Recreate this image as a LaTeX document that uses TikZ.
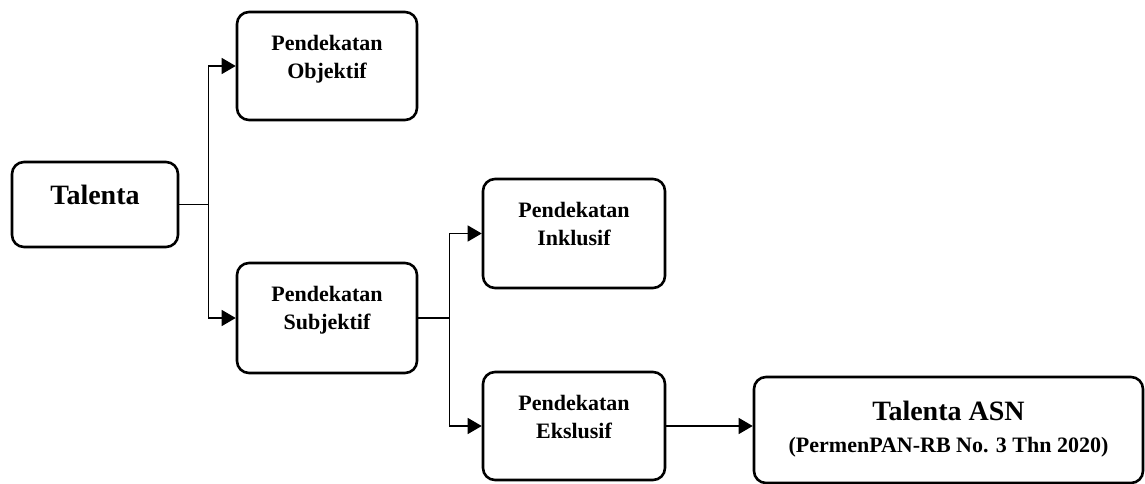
\documentclass[tikz,border=0pt]{standalone}
\usepackage{fontspec}
\setmainfont{Liberation Serif}
\usepackage{tikz}
\usetikzlibrary{arrows.meta}
\newcommand{\boxtxt}[4]{\parbox[c][#1][t]{#2}{\centering\vspace*{#3}#4}}
\tikzset{%
    roundbox/.style={%
        draw, line width=2.6pt, rounded corners=12pt, inner sep=0pt,
        font=\fontsize{22}{28}\selectfont\bfseries
    },
    link/.style={line width=1.3pt},
    linkarrow/.style={link, -{Triangle[length=14pt,width=16pt]}}
}

\begin{document}
\begin{tikzpicture}[x=1pt,y=-1pt]
    \useasboundingbox (0,0) rectangle (1145,484);
    \node[roundbox] (tal) at (95,204.5) {\boxtxt{85pt}{166pt}{23pt}{\fontsize{28}{34}\selectfont Talenta}};
    \node[roundbox] (obj) at (327,66) {\boxtxt{108pt}{180pt}{23pt}{Pendekatan\\Objektif}};
    \node[roundbox] (sub) at (327,318) {\boxtxt{110pt}{180pt}{23pt}{Pendekatan\\Subjektif}};
    \node[roundbox] (ink) at (574,233.5) {\boxtxt{109pt}{182pt}{23pt}{Pendekatan\\Inklusif}};
    \node[roundbox] (eks) at (574,426) {\boxtxt{108pt}{182pt}{23pt}{Pendekatan\\Ekslusif}};
    \node[roundbox] (asn) at (948.5,430) {\boxtxt{106pt}{389pt}{24pt}{{\fontsize{28}{34}\selectfont Talenta ASN\par}\fontsize{22}{32}\selectfont (PermenPAN-RB No. 3 Thn 2020)}};
    % branches
    \draw[link] (tal.east) -- ++(29,0) coordinate (j1);
    \draw[linkarrow] (j1) |- (obj.west);
    \draw[linkarrow] (j1) |- (sub.west);
    \draw[link] (sub.east) -- ++(31,0) coordinate (j2);
    \draw[linkarrow] (j2) |- (ink.west);
    \draw[linkarrow] (j2) |- (eks.west);
    \draw[linkarrow] (eks.east) -- (eks.east -| asn.west);
\end{tikzpicture}
\end{document}
